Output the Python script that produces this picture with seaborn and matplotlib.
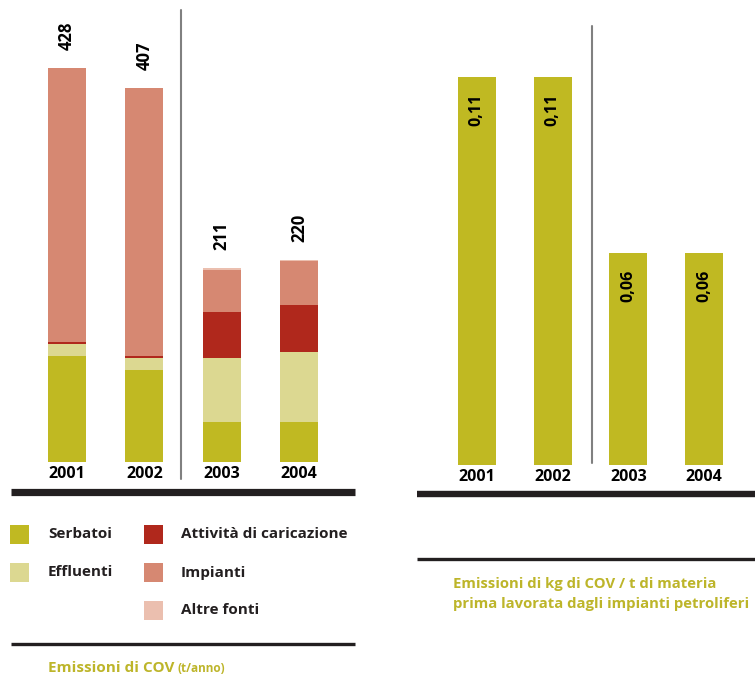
import matplotlib
matplotlib.use("Agg")
import matplotlib.pyplot as plt
from matplotlib.lines import Line2D
from matplotlib.patches import Rectangle
import seaborn as sns
import pandas as pd
import numpy as np

sns.set_theme(style="white")
plt.rcParams["font.family"] = ["Open Sans", "DejaVu Sans"]

# ---- data ----
years = ["2001", "2002", "2003", "2004"]
serbatoi = [115, 100, 43, 43]
effluenti = [13, 13, 70, 77]
caricazione = [2, 2, 50, 51]
impianti = [298, 292, 46, 47]
altre_fonti = [0, 0, 2, 2]
totals = ["428", "407", "211", "220"]

intensity = [0.11, 0.11, 0.06, 0.06]
intensity_labels = ["0,11", "0,11", "0,06", "0,06"]

series_names = ["Serbatoi", "Effluenti", "Attività di caricazione", "Impianti", "Altre fonti"]
colors = {
    "Serbatoi": "#C0B922",
    "Effluenti": "#DCD891",
    "Attività di caricazione": "#B0281C",
    "Impianti": "#D68872",
    "Altre fonti": "#EBBFAF",
}
olive_text = "#BDB52A"
dark = "#231F20"

W, H = 755, 675
fig = plt.figure(figsize=(W / 100, H / 100), dpi=100)


def fx(px):
    return px / W


def fy(py):
    return 1 - py / H


# ---- left chart: stacked emissions ----
left_base = 462
left_scale = 0.92  # px per tonne
axL = fig.add_axes([fx(11), fy(left_base), fx(355 - 11), left_base / H])
stack = pd.DataFrame({
    "year": years,
    "Serbatoi": serbatoi,
    "Effluenti": effluenti,
    "Attività di caricazione": caricazione,
    "Impianti": impianti,
    "Altre fonti": altre_fonti,
})
cum = stack[series_names].cumsum(axis=1)
for name in reversed(series_names):
    sns.barplot(x=stack["year"], y=cum[name], color=colors[name], width=0.49,
                saturation=1, ax=axL, linewidth=0)
axL.set_xlim(-0.725, 3.725)
axL.set_ylim(0, left_base / left_scale)
for i, lab in enumerate(totals):
    axL.annotate(lab, (i, cum["Altre fonti"].iloc[i]), xytext=(0, 13),
                 textcoords="offset points", rotation=90, ha="center", va="bottom",
                 fontsize=12, fontweight="bold", color="black")

# ---- right chart: intensity ----
right_base = 465
right_scale = 3530  # px per kg/t
axR = fig.add_axes([fx(417), fy(right_base), fx(755 - 417), right_base / H])
inten = pd.DataFrame({"year": years, "value": intensity})
sns.barplot(data=inten, x="year", y="value", color=colors["Serbatoi"], width=0.5,
            saturation=1, ax=axR, linewidth=0)
axR.set_xlim(-0.79, 3.67)
axR.set_ylim(0, right_base / right_scale)
for i, lab in enumerate(intensity_labels):
    axR.annotate(lab, (i, intensity[i]), xytext=(0, -12),
                 textcoords="offset points", rotation=90, ha="center", va="top",
                 fontsize=11.5, fontweight="bold", color="black")

for ax in (axL, axR):
    sns.despine(ax=ax, left=True, bottom=True)
    ax.set_xlabel("")
    ax.set_ylabel("")
    ax.set_yticks([])
    ax.tick_params(axis="x", length=0, pad=3)
    for t in ax.get_xticklabels():
        t.set_fontweight("bold")
        t.set_fontsize(11.5)
        t.set_color("black")
    ax.patch.set_alpha(0)

# period separators
fig.add_artist(Line2D([fx(181), fx(181)], [fy(10), fy(479)], color="#808080", lw=1.5))
fig.add_artist(Line2D([fx(592), fx(592)], [fy(26), fy(463)], color="#808080", lw=1.5))

# rules
fig.add_artist(Line2D([fx(11), fx(355)], [fy(491.5), fy(491.5)], color=dark, lw=5.2,
                      solid_capstyle="butt"))
fig.add_artist(Line2D([fx(417), fx(755)], [fy(494), fy(494)], color=dark, lw=4.6,
                      solid_capstyle="butt"))
fig.add_artist(Line2D([fx(417), fx(755)], [fy(558.5), fy(558.5)], color=dark, lw=2.4,
                      solid_capstyle="butt"))
fig.add_artist(Line2D([fx(11), fx(355)], [fy(643.5), fy(643.5)], color=dark, lw=2.4,
                      solid_capstyle="butt"))

# legend
legend_items = [
    ("Serbatoi", 10, 48, 534.5),
    ("Effluenti", 10, 48, 572.5),
    ("Attività di caricazione", 144, 181, 534.5),
    ("Impianti", 144, 181, 572.5),
    ("Altre fonti", 144, 181, 610.5),
]
for name, sx, tx, cy in legend_items:
    fig.add_artist(Rectangle((fx(sx), fy(cy + 9.5)), fx(19), 19 / H,
                             transform=fig.transFigure, color=colors[name], lw=0))
    fig.text(fx(tx), fy(cy), name, ha="left", va="center", fontsize=11,
             fontweight="bold", color=dark)

# captions
t1 = fig.text(fx(48), fy(668), "Emissioni di COV", ha="left", va="center",
              fontsize=11, fontweight="bold", color=olive_text)
fig.canvas.draw()
bb = t1.get_window_extent()
fig.text(bb.x1 / W + fx(3), fy(669), "(t/anno)", ha="left", va="center",
         fontsize=8.5, fontweight="bold", color=olive_text)
fig.text(fx(453), fy(584), "Emissioni di kg di COV / t di materia", ha="left",
         va="center", fontsize=10.7, fontweight="bold", color=olive_text)
fig.text(fx(453), fy(604), "prima lavorata dagli impianti petroliferi", ha="left",
         va="center", fontsize=10.7, fontweight="bold", color=olive_text)

fig.savefig("out.png", dpi=100, facecolor="white")
